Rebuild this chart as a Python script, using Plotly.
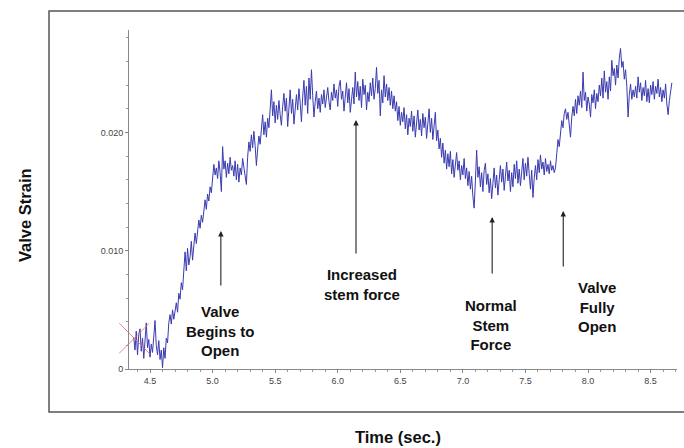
import plotly.graph_objects as go

# ---------------- data (strain in units of 1e-3) ----------------
time_start = 4.37
time_step = 0.01
strain_milli = [
    2.7, 1.6, 3.2, 1.2, 2.9, 3.4, 1.5, 2.6, 0.9, 2.2,
    3.9, 1.8, 2.5, 1.0, 2.1, 1.4, 3.0, 4.1, 2.0, 1.2,
    2.4, 0.8, 1.6, 0.1, 1.8, 0.9, 2.6, 2.2, 3.9, 4.6,
    3.8, 5.0, 4.2, 4.9, 5.6, 4.8, 6.4, 5.9, 7.3, 6.7,
    8.1, 9.9, 8.3, 10.2, 8.8, 9.5, 10.8, 9.2, 10.4, 11.5,
    10.6, 11.8, 12.6, 11.9, 13.0, 12.4, 13.6, 14.3, 13.5, 14.8,
    14.2, 15.4, 14.9, 16.2, 17.3, 16.4, 17.0, 16.1, 17.6, 16.6,
    15.0, 18.8, 16.9, 17.6, 16.2, 17.4, 16.5, 17.9, 16.8, 17.2,
    16.3, 17.6, 16.0, 17.3, 15.8, 17.0, 16.4, 17.8, 17.1, 16.0,
    15.6, 17.9, 19.2, 18.4, 19.8, 18.7, 20.1, 18.9, 17.2, 18.6,
    19.7, 19.0, 20.3, 21.5, 19.8, 20.9, 19.6, 21.2, 20.4, 22.0,
    23.6, 21.4, 22.6, 20.8, 22.3, 21.1, 22.7, 21.5, 20.6, 22.2,
    23.3, 21.8, 22.9, 20.5, 22.4, 23.6, 21.6, 22.8, 20.7, 22.1,
    23.2, 21.9, 23.7, 22.5, 20.9, 23.0, 24.4, 22.3, 23.9, 21.6,
    24.6, 22.8, 25.3, 23.1, 21.3, 22.6, 23.5, 22.0, 22.9, 21.7,
    23.2, 22.4, 23.6, 22.1, 23.0, 23.8, 22.6, 21.9, 23.4, 22.7,
    24.1, 22.9, 23.6, 22.2, 23.9, 24.4, 22.8, 23.5, 21.8, 23.3,
    24.2, 22.5, 23.7, 21.7, 22.6, 23.8, 22.4, 25.1, 23.0, 24.3,
    22.7, 23.9, 22.1, 24.5, 23.2, 24.0, 21.9, 23.4, 22.6, 24.2,
    23.1, 24.6, 22.8, 23.7, 25.5, 23.3, 24.4, 21.4, 23.6, 22.5,
    24.8, 23.0, 24.1, 22.7, 23.8, 22.3, 23.5, 22.0, 23.1, 21.8,
    22.6, 21.0, 22.2, 20.6, 21.7, 20.9, 22.1, 20.3, 21.5, 19.8,
    21.2, 20.5, 21.8, 20.1, 21.4, 19.6, 20.8, 21.9, 20.2, 21.1,
    19.7, 21.6, 20.4, 21.3, 19.5, 20.7, 22.0, 20.0, 21.2, 19.4,
    20.6, 21.7, 19.3, 20.2, 18.6, 19.5, 17.9, 19.1, 17.4, 18.5,
    16.9, 18.2, 17.1, 18.4, 16.5, 17.7, 16.2, 17.5, 18.3, 16.8,
    17.6, 16.0, 17.2, 16.4, 17.8, 16.1, 17.0, 15.5, 16.7, 15.2,
    16.3, 14.6, 13.6, 15.9, 18.5, 16.2, 17.1, 15.4, 16.6, 15.0,
    16.8, 17.4, 15.6, 16.5, 14.9, 16.1, 14.4, 15.7, 17.0, 15.3,
    16.4, 14.7, 16.0, 17.2, 15.8, 16.9, 15.1, 16.3, 17.5, 15.9,
    16.8, 15.0, 16.6, 15.4, 17.3, 16.1, 17.6, 15.7, 16.9, 15.5,
    16.7, 17.8, 16.0, 17.4, 16.3, 17.9, 16.5, 15.2, 16.8, 14.5,
    16.1, 17.2, 16.0, 17.7, 16.6, 18.1, 16.9, 17.5, 16.4, 17.8,
    16.7, 17.3, 16.5, 17.6, 16.8, 17.2, 16.6, 17.0, 18.2, 19.4,
    18.8, 20.3, 21.0, 20.4, 21.6, 22.0, 21.1, 21.7, 20.5, 19.6,
    21.3, 22.2, 21.4, 22.8, 21.6, 23.1, 22.3, 23.5, 22.1, 25.1,
    22.7, 23.4, 21.8, 23.0, 22.4, 21.3, 23.2, 22.5, 23.6, 22.0,
    23.3, 22.6, 24.0, 23.1, 24.6, 22.9, 25.2, 23.4, 24.3, 22.8,
    24.7, 23.5, 26.1, 24.8, 25.4, 24.0, 25.7, 24.6, 26.3, 27.1,
    25.5, 26.0, 24.5, 25.3, 23.9, 21.3, 23.2, 24.1, 22.8, 23.6,
    23.0, 23.9, 22.9, 24.7, 23.4, 24.2, 22.7, 23.8, 23.1, 24.4,
    22.6, 23.7, 22.5, 24.0, 23.2, 24.3, 22.8, 23.9, 23.3, 24.5,
    23.0, 23.8, 22.6, 23.6, 22.9, 24.1, 22.4, 21.5, 22.7, 23.7,
    24.2,
]

marker_time = [4.374]
marker_strain = [2.6]

x_tick_vals = [4.5, 5.0, 5.5, 6.0, 6.5, 7.0, 7.5, 8.0, 8.5]
x_tick_text = ["4.5", "5.0", "5.5", "6.0", "6.5", "7.0", "7.5", "8.0", "8.5"]
y_tick_vals = [0, 10, 20]
y_tick_text = ["0", "0.010", "0.020"]

# annotation labels: (text, x, y)
labels = [
    ("Valve<br>Begins to<br>Open", 5.058, 3.2),
    ("Increased<br>stem force", 6.194, 7.14),
    ("Normal<br>Stem<br>Force", 7.226, 3.72),
    ("Valve<br>Fully<br>Open", 8.073, 5.24),
]
# arrows: (head x, head y, length in px)
arrows = [
    (5.066, 11.67, 56),
    (6.146, 21.05, 135),
    (7.234, 12.85, 58),
    (7.802, 13.36, 57),
]

# ---------------- layout constants ----------------
W, H = 684, 448
L, R, T, B = 129, 7, 30, 79
PW, PH = W - L - R, H - T - B


def px_to_paper_x(px):
    return (px - L) / PW


def py_to_paper_y(py):
    return (H - B - py) / PH


FONT = "Liberation Sans, Arial, sans-serif"

fig = go.Figure()
fig.add_trace(go.Scatter(
    x0=time_start, dx=time_step, y=strain_milli,
    mode="lines", line=dict(color="#3a3ab0", width=1),
    showlegend=False, hoverinfo="skip",
))
fig.add_trace(go.Scatter(
    x=marker_time, y=marker_strain, mode="markers", cliponaxis=False,
    marker=dict(symbol="x-thin", size=30,
                line=dict(color="rgba(235,110,110,0.85)", width=1)),
    showlegend=False, hoverinfo="skip",
))

annotations = []
for text, x, y in labels:
    annotations.append(dict(
        x=x, y=y, xref="x", yref="y", text=text, showarrow=False,
        font=dict(family=FONT, size=15, color="#111", weight="bold"),
        align="center", xanchor="center", yanchor="middle",
    ))
for x, y, length in arrows:
    annotations.append(dict(
        x=x, y=y, xref="x", yref="y", text="", showarrow=True,
        ax=0, ay=length, arrowhead=2, arrowsize=1, arrowwidth=1.1,
        arrowcolor="#222", standoff=0,
    ))
annotations.append(dict(
    x=px_to_paper_x(25), y=py_to_paper_y(215), xref="paper", yref="paper",
    text="Valve Strain", textangle=-90, showarrow=False,
    font=dict(family=FONT, size=16.5, color="#111", weight="bold"),
    xanchor="center", yanchor="middle",
))
annotations.append(dict(
    x=px_to_paper_x(398), y=py_to_paper_y(437), xref="paper", yref="paper",
    text="Time (sec.)", showarrow=False,
    font=dict(family=FONT, size=16.5, color="#111", weight="bold"),
    xanchor="center", yanchor="middle",
))

fig.update_layout(
    width=W, height=H,
    margin=dict(l=L, r=R, t=T, b=B),
    paper_bgcolor="white", plot_bgcolor="white",
    annotations=annotations,
    shapes=[dict(
        type="rect", xref="paper", yref="paper",
        x0=px_to_paper_x(49), x1=px_to_paper_x(710),
        y0=py_to_paper_y(412), y1=py_to_paper_y(11),
        line=dict(color="#555", width=1.5), layer="below",
    )],
)
fig.update_xaxes(
    range=[4.332, 8.711], showgrid=False, zeroline=False,
    showline=True, linecolor="#888", linewidth=1,
    tickvals=x_tick_vals, ticktext=x_tick_text,
    ticks="outside", ticklen=3, tickcolor="#888",
    tickfont=dict(family=FONT, size=9, color="#444"),
    minor=dict(dtick=0.1, tick0=4.5, ticks="outside", ticklen=2, tickcolor="#999"),
)
fig.update_yaxes(
    range=[0, 28.66], showgrid=False, zeroline=False,
    showline=True, linecolor="#888", linewidth=1,
    tickvals=y_tick_vals, ticktext=y_tick_text,
    ticks="outside", ticklen=3, tickcolor="#888",
    tickfont=dict(family=FONT, size=9, color="#444"),
    minor=dict(dtick=2, tick0=0, ticks="outside", ticklen=2, tickcolor="#999"),
)

fig.write_html("out.html")
